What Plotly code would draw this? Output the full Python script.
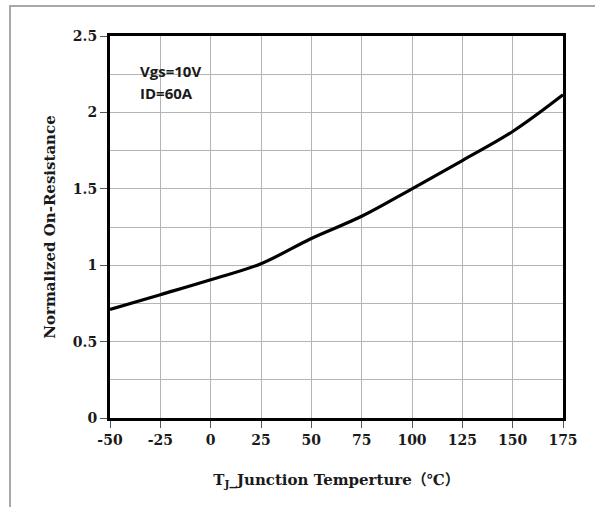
import plotly.graph_objects as go

temps = [-50, -25, 0, 25, 50, 75, 100, 125, 150, 175]
r_norm = [0.71, 0.807, 0.905, 1.01, 1.175, 1.32, 1.50, 1.685, 1.875, 2.115]
x_ticks = [-50, -25, 0, 25, 50, 75, 100, 125, 150, 175]
y_ticks = [0, 0.5, 1, 1.5, 2, 2.5]
y_tick_text = ["0", "0.5", "1", "1.5", "2", "2.5"]
notes = ["Vgs=10V", "ID=60A"]

serif = "DejaVu Serif, Noto Sans CJK SC"

fig = go.Figure()
fig.add_trace(go.Scatter(
    x=temps, y=r_norm, mode="lines",
    line=dict(color="black", width=3.2, shape="spline", smoothing=1.0),
    hoverinfo="skip", showlegend=False,
))

fig.update_layout(
    width=595, height=507,
    margin=dict(l=110, r=32, t=36, b=89),
    paper_bgcolor="white", plot_bgcolor="white",
    showlegend=False,
    font=dict(family=serif, color="black"),
)

fig.update_xaxes(
    range=[-50, 175], tickvals=x_ticks, ticktext=[str(v) for v in x_ticks],
    showline=True, linecolor="black", linewidth=3, mirror=True,
    ticks="outside", ticklen=7, tickwidth=1, tickcolor="#555",
    showgrid=True, gridcolor="#b4b4b4", gridwidth=1, zeroline=False,
    tickfont=dict(family=serif, size=14, color="#1a1a1a", weight="bold"),
    title=dict(text="T<sub>J</sub>_Junction Temperture（℃）",
               font=dict(family=serif, size=15, color="#1a1a1a", weight="bold"),
               standoff=28),
)
fig.update_yaxes(
    range=[0, 2.5], tickvals=y_ticks, ticktext=y_tick_text,
    showline=True, linecolor="black", linewidth=3, mirror=True,
    ticks="outside", ticklen=7, tickwidth=1, tickcolor="#555",
    showgrid=True, gridcolor="#b4b4b4", gridwidth=1, zeroline=False,
    minor=dict(dtick=0.25, tick0=0, showgrid=True, gridcolor="#b4b4b4", gridwidth=1, ticks=""),
    tickfont=dict(family=serif, size=14, color="#1a1a1a", weight="bold"),
    title=dict(text="Normalized On-Resistance",
               font=dict(family=serif, size=15, color="#1a1a1a", weight="bold"),
               standoff=14),
)

for i, t in enumerate(notes):
    fig.add_annotation(
        x=-36, y=[2.27, 2.13][i], xref="x", yref="y", text=t, showarrow=False,
        xanchor="left", yanchor="middle",
        font=dict(family="Open Sans, Liberation Sans", size=15, color="#1a1a1a", weight="bold"),
    )

# outer gray frame (left and top edges) as thin filled bars, in page pixels
def px_x(p):
    return (p - 110) / 453

def px_y(p):
    return (418 - p) / 382

fig.add_shape(type="rect", xref="paper", yref="paper",
              x0=px_x(9), x1=px_x(595), y0=px_y(7), y1=px_y(5),
              line=dict(width=0), fillcolor="#a8a8a8", layer="above")
fig.add_shape(type="rect", xref="paper", yref="paper",
              x0=px_x(9), x1=px_x(11), y0=px_y(507), y1=px_y(5),
              line=dict(width=0), fillcolor="#a8a8a8", layer="above")

fig.write_html("out.html", config={"displayModeBar": False},
               post_script="document.body.style.margin='0';document.body.style.padding='0';")
